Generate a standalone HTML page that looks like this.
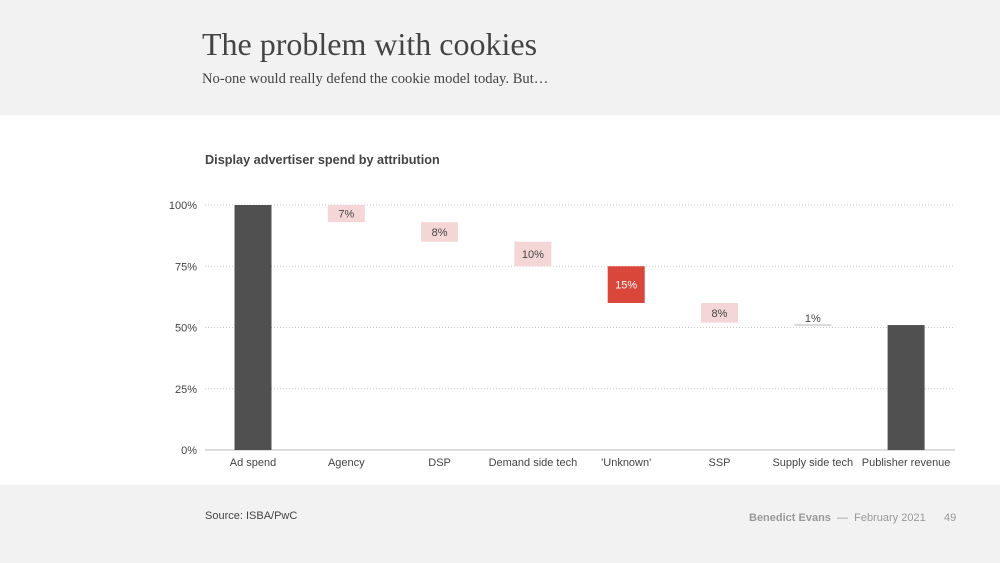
<!DOCTYPE html>
<html><head><meta charset="utf-8">
<style>
body{margin:0;width:1000px;height:563px;overflow:hidden;background:#fff;font-family:"Liberation Sans",sans-serif;}
#top{position:absolute;left:0;top:0;width:1000px;height:115px;background:#f2f2f2;}
#bot{position:absolute;left:0;top:485px;width:1000px;height:78px;background:#f2f2f2;}
#title{position:absolute;left:202px;top:26px;font-family:"Liberation Serif",serif;font-size:32px;color:#444;}
#sub{position:absolute;left:202px;top:71px;font-family:"Liberation Serif",serif;font-size:14.6px;color:#444;}
#src{position:absolute;left:205px;top:510px;font-size:11px;color:#444;}
#foot{position:absolute;left:749px;top:512px;font-size:11px;color:#999;}
#pg{position:absolute;left:944px;top:512px;font-size:11px;color:#999;}
svg{position:absolute;left:0;top:0;}
</style></head><body>
<div id="top"></div>
<div id="bot"></div>
<div id="title">The problem with cookies</div>
<div id="sub">No-one would really defend the cookie model today. But…</div>
<div id="src">Source: ISBA/PwC</div>
<div id="foot"><b>Benedict Evans</b> &nbsp;—&nbsp; February 2021</div>
<div id="pg">49</div>
<svg id="chart" width="1000" height="563"></svg>
<script>
const categories=["Ad spend","Agency","DSP","Demand side tech","'Unknown'","SSP","Supply side tech","Publisher revenue"];
const starts=[0,100,93,85,75,60,52,0];
const changes=[100,-7,-8,-10,-15,-8,-1,51];
const kinds=["total","step","step","step","highlight","step","thin","total"];
const ticks=[0,25,50,75,100];
const tickLabels=["0%","25%","50%","75%","100%"];

const svg=document.getElementById('chart');
const NS='http://www.w3.org/2000/svg';
const y=v=>450-v*2.45;
const x=i=>253+i*93.3;
function mk(t,a){const e=document.createElementNS(NS,t);for(const k in a)e.setAttribute(k,a[k]);svg.appendChild(e);return e;}

const ct=mk('text',{x:205,y:164,'font-size':12.7,'font-weight':'bold',fill:'#444'});


ct.textContent='Display advertiser spend by attribution';

ticks.forEach((t,i)=>{
  const g=mk('line',{x1:205,x2:955,y1:y(t),y2:y(t),stroke:t===0?'#bbb':'#ccc','stroke-dasharray':t===0?'':'1,2','stroke-width':1});
  
  
  const l=mk('text',{x:197,y:y(t)+4,'font-size':11,fill:'#444','text-anchor':'end'});
  
  
  l.textContent=tickLabels[i];
});

categories.forEach((c,i)=>{
  const a=starts[i],b=starts[i]+changes[i];
  const top=y(Math.max(a,b)),h=Math.abs(y(a)-y(b));
  const k=kinds[i];
  let fill=k==='total'?'#505050':k==='highlight'?'#d9473a':k==='thin'?'#d9d9d9':'#f5d6d6';
  let hh=k==='thin'?2:h;
  const r=mk('rect',{x:x(i)-18.5,y:k==='thin'?y(b)-1:top,width:37,height:hh,fill:fill});
  
  
  if(k!=='total'){
    const t=mk('text',{x:x(i),y:k==='thin'?y(b)-3:top+h/2+4,'font-size':11,'text-anchor':'middle',fill:k==='highlight'?'#fff':'#444'});
    
    
    t.textContent=Math.abs(changes[i])+'%';
  }
  const xl=mk('text',{x:x(i),y:466,'font-size':11,'text-anchor':'middle',fill:'#444'});
  
  
  xl.textContent=c;
});
</script>
</body></html>
